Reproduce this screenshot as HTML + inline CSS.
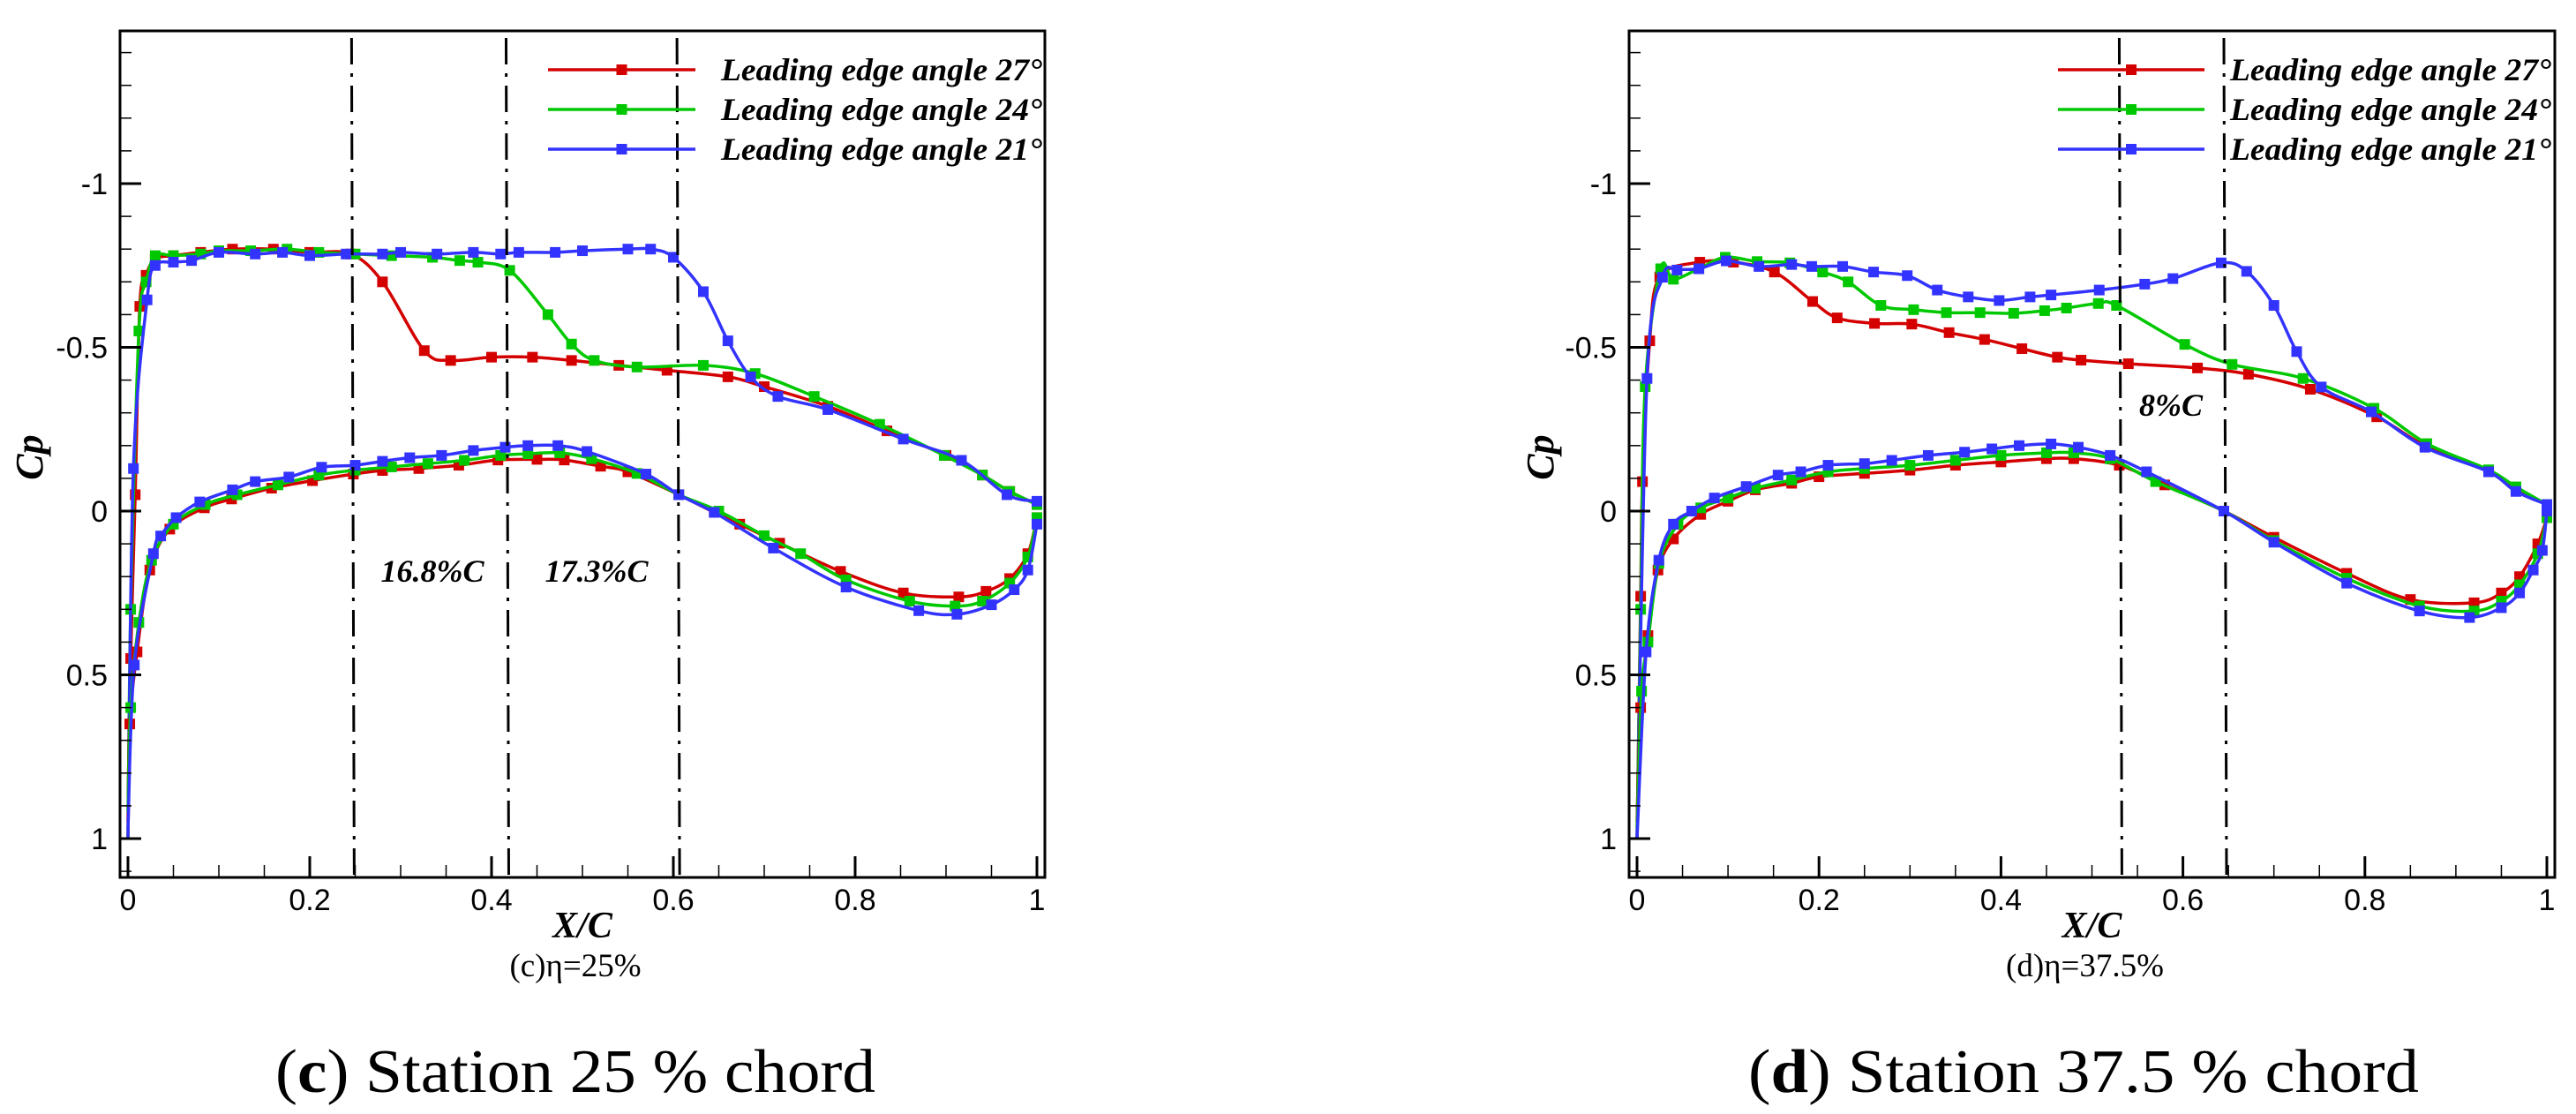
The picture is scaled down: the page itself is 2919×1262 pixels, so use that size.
<!DOCTYPE html>
<html><head><meta charset="utf-8"><style>
html,body{margin:0;padding:0;background:#fff;}
svg{display:block;}
</style></head><body>
<svg id="fig" xmlns="http://www.w3.org/2000/svg" width="2919" height="1262" viewBox="0 0 2919 1262">
<rect width="2919" height="1262" fill="#fff"/>
</svg>
<script>
// ---- data: panel (c) eta=25% ----
const c_red_up=[[0,1.0],[0.003,0.45],[0.008,-0.05],[0.013,-0.625],[0.02,-0.72],[0.03,-0.77],[0.05,-0.78],[0.08,-0.79],[0.115,-0.80],[0.16,-0.80],[0.2,-0.79],[0.245,-0.785],[0.28,-0.70],[0.326,-0.49],[0.355,-0.46],[0.40,-0.47],[0.445,-0.47],[0.488,-0.46],[0.54,-0.445],[0.593,-0.43],[0.66,-0.41],[0.70,-0.38],[0.77,-0.32],[0.835,-0.245],[0.90,-0.17],[0.94,-0.11],[0.97,-0.06],[1.0,-0.02]];
const c_green_up=[[0,1.0],[0.003,0.3],[0.012,-0.55],[0.02,-0.7],[0.03,-0.78],[0.05,-0.78],[0.08,-0.785],[0.1,-0.795],[0.135,-0.795],[0.175,-0.80],[0.21,-0.79],[0.25,-0.785],[0.29,-0.78],[0.335,-0.775],[0.365,-0.765],[0.385,-0.76],[0.42,-0.735],[0.462,-0.60],[0.488,-0.51],[0.513,-0.46],[0.56,-0.44],[0.633,-0.445],[0.69,-0.42],[0.755,-0.35],[0.827,-0.265],[0.898,-0.17],[0.94,-0.11],[0.97,-0.06],[1.0,-0.02]];
const c_blue_up=[[0,1.0],[0.006,-0.13],[0.021,-0.645],[0.03,-0.75],[0.05,-0.76],[0.07,-0.765],[0.1,-0.79],[0.14,-0.785],[0.17,-0.79],[0.2,-0.78],[0.24,-0.785],[0.28,-0.785],[0.3,-0.79],[0.34,-0.785],[0.38,-0.79],[0.41,-0.785],[0.43,-0.79],[0.47,-0.79],[0.5,-0.795],[0.55,-0.80],[0.575,-0.80],[0.60,-0.775],[0.633,-0.67],[0.66,-0.52],[0.685,-0.41],[0.715,-0.35],[0.77,-0.31],[0.853,-0.22],[0.917,-0.155],[0.967,-0.05],[1.0,-0.03]];
const c_red_low=[[0,0.95],[0.002,0.65],[0.01,0.43],[0.024,0.18],[0.046,0.055],[0.084,-0.01],[0.114,-0.037],[0.158,-0.07],[0.203,-0.093],[0.248,-0.113],[0.28,-0.124],[0.32,-0.13],[0.364,-0.14],[0.407,-0.156],[0.45,-0.158],[0.48,-0.156],[0.52,-0.137],[0.55,-0.12],[0.606,-0.05],[0.645,0.004],[0.673,0.04],[0.717,0.098],[0.784,0.184],[0.853,0.25],[0.914,0.262],[0.944,0.245],[0.97,0.206],[0.99,0.13],[1.0,0.02]];
const c_green_low=[[0,0.92],[0.003,0.6],[0.012,0.34],[0.026,0.15],[0.05,0.04],[0.085,-0.02],[0.12,-0.05],[0.165,-0.08],[0.21,-0.11],[0.25,-0.125],[0.29,-0.135],[0.33,-0.145],[0.37,-0.155],[0.41,-0.17],[0.44,-0.175],[0.475,-0.178],[0.51,-0.16],[0.56,-0.115],[0.606,-0.05],[0.65,0.0],[0.7,0.075],[0.74,0.13],[0.79,0.21],[0.86,0.275],[0.91,0.29],[0.94,0.275],[0.97,0.22],[0.99,0.14],[1.0,0.02]];
const c_blue_low=[[0,0.97],[0.007,0.47],[0.028,0.13],[0.036,0.076],[0.053,0.02],[0.079,-0.028],[0.115,-0.065],[0.14,-0.09],[0.177,-0.104],[0.213,-0.134],[0.25,-0.14],[0.28,-0.152],[0.31,-0.163],[0.345,-0.17],[0.38,-0.185],[0.415,-0.195],[0.44,-0.2],[0.473,-0.2],[0.505,-0.182],[0.57,-0.113],[0.606,-0.05],[0.645,0.004],[0.71,0.113],[0.79,0.232],[0.87,0.304],[0.912,0.315],[0.95,0.286],[0.975,0.24],[0.99,0.18],[1.0,0.04]];
const c_vlines=[0.246,0.416,0.604];
// ---- data: panel (d) eta=37.5% ----
const d_red_up=[[0,1.0],[0.004,0.26],[0.006,-0.09],[0.014,-0.52],[0.025,-0.715],[0.069,-0.76],[0.106,-0.76],[0.151,-0.73],[0.193,-0.64],[0.22,-0.59],[0.261,-0.573],[0.302,-0.571],[0.343,-0.545],[0.382,-0.524],[0.423,-0.496],[0.462,-0.47],[0.488,-0.461],[0.54,-0.45],[0.616,-0.437],[0.672,-0.418],[0.74,-0.372],[0.813,-0.288],[0.866,-0.2],[0.936,-0.12],[0.966,-0.065],[1.0,-0.02]];
const d_green_up=[[0,1.0],[0.004,0.3],[0.009,-0.38],[0.026,-0.74],[0.04,-0.708],[0.068,-0.74],[0.097,-0.775],[0.132,-0.762],[0.168,-0.758],[0.204,-0.73],[0.232,-0.70],[0.268,-0.628],[0.304,-0.615],[0.34,-0.606],[0.377,-0.606],[0.414,-0.604],[0.448,-0.612],[0.472,-0.62],[0.507,-0.634],[0.527,-0.628],[0.602,-0.509],[0.654,-0.448],[0.732,-0.405],[0.81,-0.314],[0.868,-0.206],[0.936,-0.126],[0.966,-0.074],[1.0,-0.02]];
const d_blue_up=[[0,1.0],[0.011,-0.405],[0.028,-0.714],[0.044,-0.736],[0.068,-0.74],[0.098,-0.764],[0.134,-0.747],[0.17,-0.753],[0.192,-0.747],[0.226,-0.747],[0.26,-0.73],[0.297,-0.719],[0.33,-0.675],[0.364,-0.654],[0.398,-0.643],[0.432,-0.654],[0.455,-0.66],[0.508,-0.675],[0.558,-0.693],[0.589,-0.71],[0.642,-0.758],[0.67,-0.732],[0.70,-0.628],[0.725,-0.487],[0.752,-0.379],[0.807,-0.303],[0.866,-0.195],[0.936,-0.12],[0.966,-0.06],[1.0,-0.02]];
const d_red_low=[[0,0.95],[0.004,0.6],[0.012,0.38],[0.023,0.18],[0.04,0.085],[0.07,0.01],[0.1,-0.03],[0.13,-0.065],[0.17,-0.085],[0.2,-0.105],[0.25,-0.115],[0.3,-0.125],[0.35,-0.14],[0.4,-0.15],[0.45,-0.16],[0.48,-0.16],[0.53,-0.14],[0.58,-0.08],[0.645,0.0],[0.7,0.08],[0.78,0.19],[0.85,0.27],[0.92,0.28],[0.95,0.25],[0.97,0.2],[0.99,0.1],[1.0,0.02]];
const d_green_low=[[0,0.97],[0.005,0.55],[0.012,0.4],[0.024,0.16],[0.045,0.04],[0.07,-0.01],[0.1,-0.04],[0.13,-0.07],[0.17,-0.095],[0.21,-0.12],[0.25,-0.13],[0.3,-0.14],[0.35,-0.155],[0.4,-0.17],[0.45,-0.178],[0.48,-0.178],[0.52,-0.16],[0.57,-0.09],[0.645,0.0],[0.7,0.09],[0.78,0.205],[0.86,0.29],[0.92,0.305],[0.95,0.275],[0.97,0.225],[0.99,0.13],[1.0,0.02]];
const d_blue_low=[[0,1.0],[0.01,0.43],[0.024,0.15],[0.04,0.04],[0.06,0.0],[0.085,-0.04],[0.12,-0.075],[0.155,-0.11],[0.18,-0.12],[0.21,-0.14],[0.25,-0.145],[0.28,-0.155],[0.32,-0.17],[0.36,-0.18],[0.39,-0.19],[0.42,-0.2],[0.455,-0.205],[0.485,-0.195],[0.52,-0.17],[0.56,-0.12],[0.645,0.0],[0.70,0.095],[0.78,0.22],[0.86,0.305],[0.915,0.325],[0.95,0.295],[0.97,0.25],[0.985,0.18],[0.995,0.12],[1.0,0.0]];
const d_vlines=[0.53,0.645];
const xTickLabels=["0","0.2","0.4","0.6","0.8","1"];
const xTickValues=[0,0.2,0.4,0.6,0.8,1];
const yTickLabels=["-1","-0.5","0","0.5","1"];
const yTickValues=[-1,-0.5,0,0.5,1];
const legendLabels=["Leading edge angle 27°","Leading edge angle 24°","Leading edge angle 21°"];
const colors=["#d40000","#00c800","#3333ff"];

const NS="http://www.w3.org/2000/svg";
const svg=document.getElementById('fig');
function mk(tag,attrs,parent,text){const e=document.createElementNS(NS,tag);for(const k in attrs)e.setAttribute(k,attrs[k]);if(text!==undefined)e.textContent=text;(parent||svg).appendChild(e);return e;}
function smoothPath(pts){let d="M"+pts[0][0].toFixed(1)+","+pts[0][1].toFixed(1);for(let i=0;i<pts.length-1;i++){const p0=pts[Math.max(0,i-1)],p1=pts[i],p2=pts[i+1],p3=pts[Math.min(pts.length-1,i+2)];const t=1/6;d+=" C"+(p1[0]+(p2[0]-p0[0])*t).toFixed(1)+","+(p1[1]+(p2[1]-p0[1])*t).toFixed(1)+" "+(p2[0]-(p3[0]-p1[0])*t).toFixed(1)+","+(p2[1]-(p3[1]-p1[1])*t).toFixed(1)+" "+p2[0].toFixed(1)+","+p2[1].toFixed(1);}return d;}

function panel(cfg){
  const g=mk('g',{});
  
  
  const X=v=>cfg.x0+v*(cfg.x1-cfg.x0);
  const Y=v=>cfg.y0+v*cfg.unit;
  const fx=cfg.fl, fr=cfg.fr, ft=35, fb=994;
  cfg.series.forEach((s,si)=>{
    const pts=s.map(p=>[X(p[0]),Y(p[1])]);
    const path=mk('path',{d:smoothPath(pts),fill:'none',stroke:colors[si%3],'stroke-width':3.5},g);
    
    
    s.forEach((p,i)=>{if(i===0)return;
      const r=mk('rect',{x:X(p[0])-6,y:Y(p[1])-6,width:12,height:12,fill:colors[si%3]},g);
      
      
    });
  });
  cfg.vlines.forEach(v=>{
    const l=mk('line',{x1:X(v),y1:ft+8,x2:X(v)+3,y2:fb-2,stroke:'#000','stroke-width':3,'stroke-dasharray':'30 10 4 10'},g);
    
    
  });
  const fr_=mk('rect',{x:fx,y:ft,width:fr-fx,height:fb-ft,fill:'none',stroke:'#000','stroke-width':3},g);
  
  
  for(let k=-14;k<=11;k++){const v=k/10;const maj=(k%5===0);const y=Y(v);
    const t=mk('line',{x1:fx,y1:y,x2:fx+(maj?24:13),y2:y,stroke:'#000','stroke-width':maj?3:1.5},g);
    
    }
  yTickValues.forEach((v,i)=>{const t=mk('text',{x:fx-14,y:Y(v)+12,'text-anchor':'end','font-family':'Liberation Sans, sans-serif','font-size':34},g,yTickLabels[i]);
    
    });
  for(let k=0;k<=20;k++){const v=k/20;const maj=(k%4===0);const x=X(v);
    const t=mk('line',{x1:x,y1:fb,x2:x,y2:fb-(maj?24:14),stroke:'#000','stroke-width':maj?3:1.5},g);
    
    }
  xTickValues.forEach((v,i)=>{const t=mk('text',{x:X(v),y:1031,'text-anchor':'middle','font-family':'Liberation Sans, sans-serif','font-size':34},g,xTickLabels[i]);
    
    });
  const xt=mk('text',{x:(fx+fr)/2,y:1062,'text-anchor':'middle','font-family':'Liberation Serif, serif','font-size':42,'font-weight':'bold','font-style':'italic'},g,'X/C');
  
  
  const yt=mk('text',{x:cfg.cpx,y:cfg.cpy,'text-anchor':'middle','font-family':'Liberation Serif, serif','font-size':44,'font-weight':'bold','font-style':'italic',transform:'rotate(-90 '+cfg.cpx+' '+cfg.cpy+')'},g,'Cp');
  
  
  const st=mk('text',{x:(fx+fr)/2-8,y:1106,'text-anchor':'middle','font-family':'Liberation Serif, serif','font-size':37},g,cfg.sub);
  
  
  const cap=mk('text',{x:cfg.capx,y:1237,'text-anchor':'middle','font-family':'Liberation Serif, serif','font-size':70,textLength:cfg.capw,lengthAdjust:'spacingAndGlyphs'},g);
  
  
  mk('tspan',{},cap,'(');
  mk('tspan',{'font-weight':'bold'},cap,cfg.letter);
  mk('tspan',{},cap,') '+cfg.cap);
  cfg.notes.forEach(n=>{const t=mk('text',{x:n[0],y:n[1],'text-anchor':'middle','font-family':'Liberation Serif, serif','font-size':36,'font-weight':'bold','font-style':'italic'},g,n[2]);
    
    });
  legendLabels.forEach((lab,i)=>{const y=cfg.ly+i*45;
    const l=mk('line',{x1:cfg.lx1,y1:y,x2:cfg.lx2,y2:y,stroke:colors[i],'stroke-width':3.5},g);
    
    
    const m=mk('rect',{x:(cfg.lx1+cfg.lx2)/2-6,y:y-6,width:12,height:12,fill:colors[i]},g);
    
    
    const t=mk('text',{x:cfg.tx,y:y+12,'font-family':'Liberation Serif, serif','font-size':36,'font-weight':'bold','font-style':'italic',textLength:364,lengthAdjust:'spacingAndGlyphs'},g,lab);
    
    });
}
panel({name:'panel-c',x0:145,x1:1175,fl:136,fr:1184,y0:579,unit:371,
  series:[c_red_up,c_green_up,c_blue_up,c_red_low,c_green_low,c_blue_low],vlines:c_vlines,
  cpx:48,cpy:518,sub:'(c)η=25%',capx:652,capw:680,letter:'c',cap:'Station 25 % chord',
  notes:[[490,659,'16.8%C'],[676,659,'17.3%C']],lx1:621,lx2:788,tx:817,ly:79});
panel({name:'panel-d',x0:1855,x1:2886,fl:1846,fr:2895,y0:579,unit:371,
  series:[d_red_up,d_green_up,d_blue_up,d_red_low,d_green_low,d_blue_low],vlines:d_vlines,
  cpx:1760,cpy:518,sub:'(d)η=37.5%',capx:2361,capw:760,letter:'d',cap:'Station 37.5 % chord',
  notes:[[2460,471,'8%C']],lx1:2332,lx2:2498,tx:2527,ly:79});
</script>
</body></html>
